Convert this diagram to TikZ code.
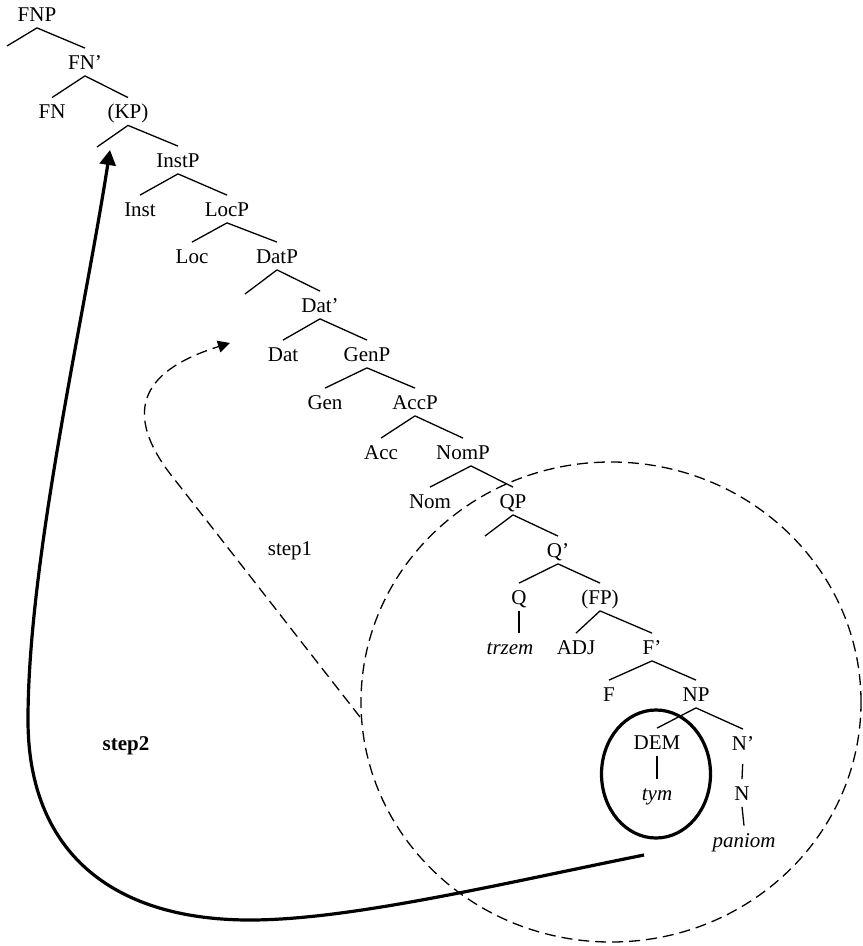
\documentclass[tikz,border=0pt]{standalone}
\usepackage{fontspec}
\setmainfont{Liberation Serif}
\usetikzlibrary{shapes.geometric, arrows.meta, positioning, calc}

\begin{document}
\begin{tikzpicture}[
    x=0.5pt, y=-0.5pt,
    cat/.style={anchor=base, inner sep=1pt, text height=9.5pt, text depth=2pt,
        font=\fontsize{10.5pt}{12pt}\selectfont},
    word/.style={cat, font=\fontsize{10.5pt}{12pt}\selectfont\itshape},
    branch/.style={line width=0.65pt},
    movezone/.style={ellipse, draw, dash pattern=on 5.5pt off 3pt, line width=0.65pt,
        minimum width=250pt, minimum height=240pt, inner sep=0pt},
    focuszone/.style={ellipse, draw, line width=1.6pt,
        minimum width=54.5pt, minimum height=64pt, inner sep=0pt},
    move/.style={-{Triangle[length=7.5pt, width=8pt]}, line width=1.6pt},
    dashmove/.style={-{Triangle[length=6pt, width=6pt]}, line width=0.65pt, dash pattern=on 5.5pt off 3pt},
    steplabel/.style={anchor=base, font=\fontsize{10.5pt}{12pt}\selectfont},
]
\useasboundingbox (0,0) rectangle (862,946);

% --- Circled domains ---
\node[movezone] (zone) at (611,702) {};
\node[focuszone] (demzone) at (656,774) {};

% --- Tree ---
\node[cat] (FNP) at (37,21.5) {FNP};
\coordinate (FNPgap) at (7,46);
\node[cat] (FNbar) at (85,69.5) {FN'};
\node[cat] (FN) at (52,119) {FN};
\node[cat] (KP) at (128,119) {(KP)};
\coordinate (KPgap) at (97,147);
\node[cat] (InstP) at (178,167.5) {InstP};
\node[cat] (Inst) at (140,216.5) {Inst};
\node[cat] (LocP) at (227,216.5) {LocP};
\node[cat] (Loc) at (192,263.5) {Loc};
\node[cat] (DatP) at (277,263.5) {DatP};
\coordinate (DatPgap) at (245,294);
\node[cat] (Datbar) at (320,312.5) {Dat'};
\node[cat] (Dat) at (283,361.5) {Dat};
\node[cat] (GenP) at (367,361.5) {GenP};
\node[cat] (Gen) at (325,409.5) {Gen};
\node[cat] (AccP) at (415,409.5) {AccP};
\node[cat] (Acc) at (381,459.5) {Acc};
\node[cat] (NomP) at (463,459.5) {NomP};
\node[cat] (Nom) at (430,508.5) {Nom};
\node[cat] (QP) at (513,508.5) {QP};
\coordinate (QPgap) at (485,536);
\node[cat] (Qbar) at (558,557.5) {Q'};
\node[cat] (Q) at (519,604.5) {Q};
\node[cat] (FP) at (600,604.5) {(FP)};
\node[word] (trzem) at (510,654.5) {trzem};
\node[cat] (ADJ) at (576,654.5) {ADJ};
\node[cat] (Fbar) at (652,654.5) {F'};
\node[cat] (F) at (609,701.5) {F};
\node[cat] (NP) at (696,701.5) {NP};
\node[cat] (DEM) at (657,749.5) {DEM};
\node[cat] (Nbar) at (743,750.5) {N'};
\node[word] (tym) at (657,800) {tym};
\node[cat] (N) at (742,800.5) {N};
\node[word] (paniom) at (744,847) {paniom};

% --- Branches ---
\draw[branch] (FNP.south) -- (FNPgap);
\draw[branch] (FNP.south) -- (FNbar.north);
\draw[branch] (FNbar.south) -- (FN.north);
\draw[branch] (FNbar.south) -- (KP.north);
\draw[branch] (KP.south) -- (KPgap);
\draw[branch] (KP.south) -- (InstP.north);
\draw[branch] (InstP.south) -- (Inst.north);
\draw[branch] (InstP.south) -- (LocP.north);
\draw[branch] (LocP.south) -- (Loc.north);
\draw[branch] (LocP.south) -- (DatP.north);
\draw[branch] (DatP.south) -- (DatPgap);
\draw[branch] (DatP.south) -- (Datbar.north);
\draw[branch] (Datbar.south) -- (Dat.north);
\draw[branch] (Datbar.south) -- (GenP.north);
\draw[branch] (GenP.south) -- (Gen.north);
\draw[branch] (GenP.south) -- (AccP.north);
\draw[branch] (AccP.south) -- (Acc.north);
\draw[branch] (AccP.south) -- (NomP.north);
\draw[branch] ([xshift=4pt]NomP.south) -- (Nom.north);
\draw[branch] ([xshift=4pt]NomP.south) -- (QP.north);
\draw[branch] (QP.south) -- (QPgap);
\draw[branch] (QP.south) -- (Qbar.north);
\draw[branch] (Qbar.south) -- (Q.north);
\draw[branch] (Qbar.south) -- (FP.north);
\draw[branch] (Q.south) -- (Q.south |- trzem.north);
\draw[branch] (FP.south) -- (ADJ.north);
\draw[branch] (FP.south) -- (Fbar.north);
\draw[branch] (Fbar.south) -- (F.north);
\draw[branch] (Fbar.south) -- (NP.north);
\draw[branch] (NP.south) -- (DEM.north);
\draw[branch] (NP.south) -- (Nbar.north);
\draw[branch] (DEM.south) -- (tym.north);
\draw[branch, shorten <=3.5pt] (Nbar.south) -- (N.north);
\draw[branch] (N.south) -- (paniom.north);

% --- Steps ---
\node[steplabel] (step1) at (290,555) {step1};
\node[steplabel, font=\fontsize{10.5pt}{12pt}\selectfont\bfseries] (step2) at (126,750) {step2};

\coordinate (s1start) at (360,717);
\coordinate (s1bend) at (175,480);
\coordinate (s1end) at (230,343);
\draw[dashmove] (s1start) -- (s1bend) .. controls (110,400) and (160,365) .. (s1end);

\coordinate (s2start) at (644,855);
\coordinate (s2end) at (110,150);
\draw[move] (s2start) .. controls (500,884) and (350,920) .. (250,920)
    .. controls (110,920) and (28,850) .. (28,720)
    .. controls (28,560) and (84,318) .. (s2end);

\end{tikzpicture}
\end{document}
